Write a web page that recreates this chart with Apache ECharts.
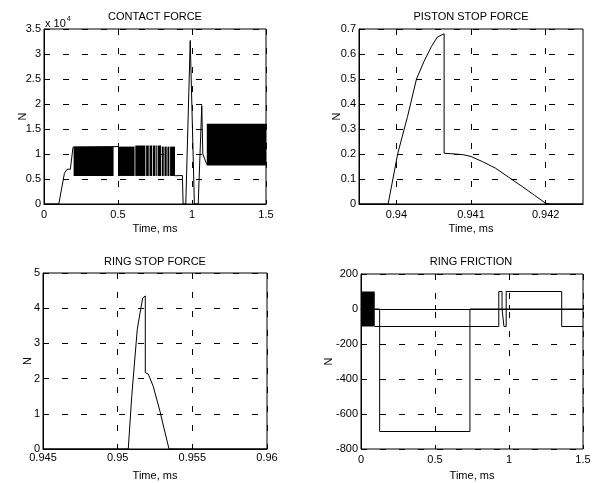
<!DOCTYPE html>
<html>
<head>
<meta charset="utf-8">
<script src="https://cdn.jsdelivr.net/npm/echarts@6/dist/echarts.min.js"></script>
<style>
  html, body { margin: 0; padding: 0; background: #fff; }
  #chart { width: 596px; height: 483px; }
</style>
</head>
<body>
<div id="chart"></div>
<script>
// ---- CONTACT FORCE (N), time in ms ----
const contactHead = [[0, 0], [0.100, 0], [0.138, 6150], [0.156, 6950], [0.178, 6950], [0.196, 11360], [0.200, 11480], [0.500, 11480]];
const contactTail = [[0.885, 5650], [0.935, 5700], [0.940, 0], [0.958, 0], [0.988, 32700], [1.016, 0], [1.042, 0], [1.066, 19700], [1.073, 10000], [1.100, 7900]];
// dense oscillation envelopes: [tStart, tEnd, low, high]
const contactBands = [
  [0.200, 0.470, 5610, 11480],
  [0.500, 0.612, 5610, 11480],
  [0.617, 0.685, 5610, 11700],
  [0.690, 0.708, 5610, 11700],
  [0.713, 0.731, 5610, 11700],
  [0.736, 0.753, 5610, 11700],
  [0.758, 0.765, 5610, 11700],
  [0.769, 0.791, 5610, 11700],
  [0.796, 0.809, 5610, 11480],
  [0.814, 0.829, 5610, 11480],
  [0.834, 0.847, 5610, 11480],
  [0.852, 0.885, 5610, 11480],
  [1.100, 1.500, 7680, 16030]
];

// ---- PISTON STOP FORCE (N) ----
const pistonStop = [[0.9395, 0], [0.93989, 0], [0.94002, 0.203], [0.94015, 0.35], [0.94027, 0.50], [0.94037, 0.57], [0.94047, 0.63], [0.94055, 0.668], [0.94064, 0.681], [0.94064, 0.203], [0.94079, 0.200], [0.94090, 0.197], [0.94100, 0.190], [0.94115, 0.170], [0.94133, 0.143], [0.94150, 0.108], [0.94169, 0.069], [0.94185, 0.035], [0.94200, 0.003], [0.94207, 0], [0.9425, 0]];
const pistonXTicks = [0.940, 0.941, 0.942];

// ---- RING STOP FORCE (N) ----
const ringStop = [[0.945, 0], [0.95071, 0], [0.95094, 1.49], [0.95131, 3.39], [0.95154, 3.97], [0.95168, 4.29], [0.95185, 4.35], [0.95185, 2.17], [0.95205, 2.13], [0.95239, 1.77], [0.95284, 1.06], [0.95313, 0.54], [0.95344, 0], [0.960, 0]];
const ringStopXTicks = [0.945, 0.950, 0.955, 0.960];

// ---- RING FRICTION (N) ----
const frictionBands = [[0, 0.093, -100, 100]];
const frictionA = [[0.093, 0], [0.126, 0], [0.126, -700], [0.736, -700], [0.736, 0], [1.5, 0]];
const frictionB = [[0.093, -100], [0.931, -100], [0.931, 100], [0.953, 100], [0.953, 0], [0.966, 0], [0.966, -100], [0.981, -100], [0.981, 100], [1.356, 100], [1.356, -100], [1.5, -100]];

const FONT = 'Liberation Sans';

function bandItem(params, api) {
  const a = api.coord([api.value(0), api.value(3)]);
  const b = api.coord([api.value(1), api.value(2)]);
  return {
    type: 'rect',
    shape: { x: a[0], y: a[1], width: Math.max(b[0] - a[0], 0.6), height: b[1] - a[1] },
    style: { fill: '#000' }
  };
}

function xAxis(gi, opt) {
  return Object.assign({
    type: 'value', gridIndex: gi,
    name: 'Time, ms', nameLocation: 'middle', nameGap: 19, nameMoveOverlap: false,
    nameTextStyle: { color: '#000', fontSize: 11, fontFamily: FONT },
    axisLine: { lineStyle: { color: '#000', width: 1 } },
    axisTick: { inside: true, length: 4, lineStyle: { color: '#000' } },
    axisLabel: { color: '#000', fontSize: 11, fontFamily: FONT, margin: 5 },
    splitLine: { show: true, lineStyle: { color: '#000', width: 1, type: [6, 13] } }
  }, opt);
}
function yAxis(gi, opt) {
  return Object.assign({
    type: 'value', gridIndex: gi,
    name: 'N', nameLocation: 'middle', nameRotate: 90, nameMoveOverlap: false,
    nameTextStyle: { color: '#000', fontSize: 11, fontFamily: FONT },
    axisLine: { show: true, lineStyle: { color: '#000', width: 1 } },
    axisTick: { show: true, inside: true, length: 4, lineStyle: { color: '#000' } },
    axisLabel: { color: '#000', fontSize: 11, fontFamily: FONT, margin: 3 },
    splitLine: { show: true, lineStyle: { color: '#000', width: 1, type: [6, 13] } }
  }, opt);
}
const lineStyle = { color: '#000', width: 1 };
function line(xi, data) {
  return { type: 'line', xAxisIndex: xi, yAxisIndex: xi, data: data, symbol: 'none', lineStyle: lineStyle, silent: true };
}
function bands(xi, data) {
  return { type: 'custom', xAxisIndex: xi, yAxisIndex: xi, data: data, renderItem: bandItem, encode: { x: [0, 1], y: [2, 3] }, silent: true };
}
const fmt = v => String(+v.toFixed(4));
const titleFont = '11px "Liberation Sans"';

const chart = echarts.init(document.getElementById('chart'), null, { renderer: 'canvas' });
chart.setOption({
  backgroundColor: '#fff',
  animation: false,
  grid: [
    { left: 44, top: 29, width: 222, height: 175, show: true, borderColor: '#000', borderWidth: 1 },
    { left: 359, top: 29, width: 224, height: 175, show: true, borderColor: '#000', borderWidth: 1 },
    { left: 43, top: 273, width: 224, height: 176, show: true, borderColor: '#000', borderWidth: 1 },
    { left: 361, top: 274, width: 222, height: 175, show: true, borderColor: '#000', borderWidth: 1 }
  ],
  xAxis: [
    xAxis(0, { min: 0, max: 1.5, interval: 0.5 }),
    xAxis(1, { min: 0.9395, max: 0.9425, axisTick: { inside: true, length: 4, lineStyle: { color: '#000' }, customValues: pistonXTicks }, axisLabel: { color: '#000', fontSize: 11, fontFamily: FONT, margin: 5, customValues: pistonXTicks, formatter: fmt } }),
    xAxis(2, { min: 0.945, max: 0.960, nameGap: 21, axisTick: { inside: true, length: 4, lineStyle: { color: '#000' }, customValues: ringStopXTicks }, axisLabel: { color: '#000', fontSize: 11, fontFamily: FONT, margin: 3, customValues: ringStopXTicks, formatter: fmt } }),
    xAxis(3, { min: 0, max: 1.5, interval: 0.5, nameGap: 21 })
  ],
  yAxis: [
    yAxis(0, { min: 0, max: 35000, interval: 5000, nameGap: 16, axisLabel: { color: '#000', fontSize: 11, fontFamily: FONT, margin: 3, formatter: v => String(v / 10000) } }),
    yAxis(1, { min: 0, max: 0.7, interval: 0.1, nameGap: 17, axisLabel: { color: '#000', fontSize: 11, fontFamily: FONT, margin: 3, formatter: fmt } }),
    yAxis(2, { min: 0, max: 5, interval: 1, nameGap: 10 }),
    yAxis(3, { min: -800, max: 200, interval: 200, nameGap: 27 })
  ],
  series: [
    bands(0, contactBands),
    line(0, contactHead),
    line(0, contactTail),
    line(1, pistonStop),
    line(2, ringStop),
    bands(3, frictionBands),
    line(3, frictionA),
    line(3, frictionB)
  ],
  graphic: [
    { type: 'text', style: { text: 'CONTACT FORCE', x: 155, y: 17, align: 'center', verticalAlign: 'middle', fill: '#000', font: titleFont } },
    { type: 'text', style: { text: 'PISTON STOP FORCE', x: 471, y: 17, align: 'center', verticalAlign: 'middle', fill: '#000', font: titleFont } },
    { type: 'text', style: { text: 'RING STOP FORCE', x: 155, y: 262, align: 'center', verticalAlign: 'middle', fill: '#000', font: titleFont } },
    { type: 'text', style: { text: 'RING FRICTION', x: 471, y: 262, align: 'center', verticalAlign: 'middle', fill: '#000', font: titleFont } },
    { type: 'text', style: { text: '{a|x 10}{b|4}', x: 45, y: 16, align: 'left', verticalAlign: 'top',
        rich: { a: { fontSize: 11, fontFamily: FONT, fill: '#000', verticalAlign: 'bottom' }, b: { fontSize: 7, fontFamily: FONT, fill: '#000', verticalAlign: 'top', padding: [0, 0, 6, 1] } } } }
  ]
});
</script>
</body>
</html>
